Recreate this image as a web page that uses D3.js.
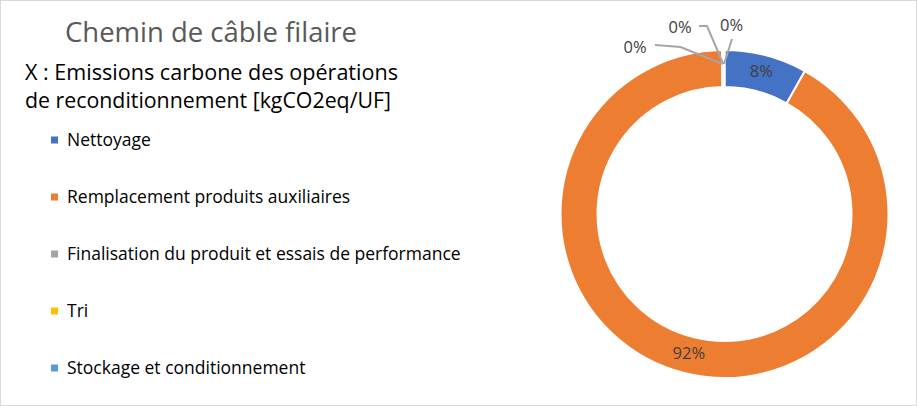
<!DOCTYPE html>
<html><head><meta charset="utf-8">
<script src="https://cdn.jsdelivr.net/npm/d3@7/dist/d3.min.js"></script>
<style>
html,body{margin:0;padding:0;background:#fff;}
svg{display:block;font-family:"Segoe UI","Open Sans","Noto Sans",sans-serif;}
</style></head><body>
<svg id="c" width="917" height="406"></svg>
<script>
const title = "Chemin de câble filaire";
const subtitle = ["X : Emissions carbone des opérations", "de reconditionnement [kgCO2eq/UF]"];
const categories = ["Nettoyage", "Remplacement produits auxiliaires", "Finalisation du produit et essais de performance", "Tri", "Stockage et conditionnement"];
const values = [0.0815, 0.9160, 0.0010, 0.0005, 0.0010];
const labels = ["8%", "92%", "0%", "0%", "0%"];
const colors = ["#4472C4", "#ED7D31", "#A5A5A5", "#FFC000", "#5B9BD5"];

const svg = d3.select("#c");
svg.append("rect").attr("x",0.5).attr("y",0.5).attr("width",916).attr("height",405)
  .attr("fill","#fff").attr("stroke","#d9d9d9");

svg.append("text").attr("x",65).attr("y",42).attr("font-size",27.5).attr("fill","#595959")
  .attr("textLength",292).attr("lengthAdjust","spacingAndGlyphs").text(title);
const subW = [373, 366];
subtitle.forEach((s,i)=>svg.append("text").attr("x",25).attr("y",80+i*28).attr("font-size",21.3).attr("fill","#000")
  .attr("textLength",subW[i]).attr("lengthAdjust","spacingAndGlyphs").text(s));

// legend
const leg = svg.append("g");
categories.forEach((c,i)=>{
  const y = 140 + i*57;
  leg.append("rect").attr("x",51).attr("y",y-3.5).attr("width",7).attr("height",7).attr("fill",colors[i]);
  leg.append("text").attr("x",67).attr("y",y).attr("dy","0.35em").attr("font-size",17.5).attr("fill","#000").text(c);
});

// donut
const cx = 724.5, cy = 214, rO = 164, rI = 127;
const g = svg.append("g").attr("transform",`translate(${cx},${cy})`);
const pie = d3.pie().sort(null).value(d=>d);
const arcs = pie(values);
const arc = d3.arc().innerRadius(rI).outerRadius(rO);
g.selectAll("path.s").data(arcs).enter().append("path").attr("class","s")
  .attr("d",arc).attr("fill",(d,i)=>colors[i]).attr("stroke","#fff").attr("stroke-width",2);

// inside labels
const mid = d3.arc().innerRadius((rI+rO)/2).outerRadius((rI+rO)/2);
[0,1].forEach(i=>{
  const [x,y] = mid.centroid(arcs[i]);
  g.append("text").attr("x",x).attr("y",y-2).attr("dy","0.35em").attr("text-anchor","middle")
   .attr("font-size",16.5).attr("fill","#404040").text(labels[i]);
});

// outside labels for tiny slices, with leader lines
const endPt = d3.arc().innerRadius(rO-14).outerRadius(rO-14);
const offs = [null,null,{tx:-89.5,ty:-166.5,lx:-69.5,ly:-169,kx:-44,ky:-167},
                        {tx:-44.5,ty:-186.5,lx:-25.5,ly:-188,kx:-17.5,ky:-188},
                        {tx:7,ty:-188.5,lx:7.5,ly:-175,kx:7.5,ky:-175}];
[2,3,4].forEach(i=>{
  const o = offs[i];
  const [px,py] = endPt.centroid(arcs[i]);
  g.append("polyline").attr("points",`${o.lx},${o.ly} ${o.kx},${o.ky} ${px},${py}`)
   .attr("fill","none").attr("stroke","#a6a6a6").attr("stroke-width",2);
  g.append("text").attr("x",o.tx).attr("y",o.ty).attr("dy","0.35em").attr("text-anchor","middle")
   .attr("font-size",16.5).attr("fill","#404040").text(labels[i]);
});
</script></body></html>
